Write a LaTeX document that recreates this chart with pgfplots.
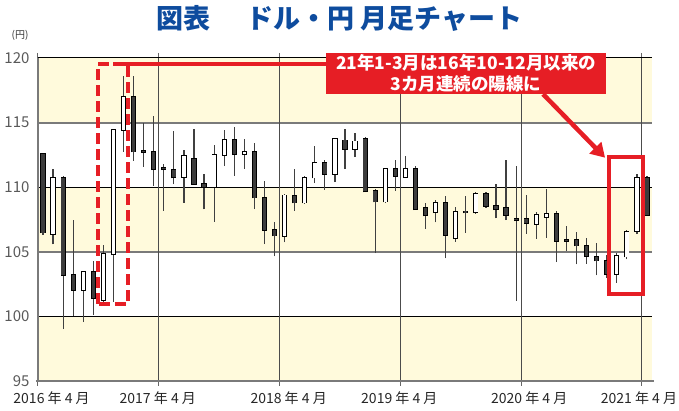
\documentclass[border=0pt]{standalone}
\usepackage{fontspec}
\setmainfont{Noto Sans CJK JP}
\usepackage{pgfplots}
\pgfplotsset{compat=1.18}
\usepackage{pgfplotstable}
\usetikzlibrary{arrows.meta}
\definecolor{band}{HTML}{FFFADC}
\definecolor{redc}{HTML}{E61E25}
\definecolor{titleblue}{HTML}{0E4C9E}
\definecolor{darkc}{HTML}{3C3C3C}
\definecolor{gridgray}{HTML}{7A7A7A}

\pgfplotstableread{
i o h l c
0 112.58 112.65 106.30 106.49
1 106.40 111.40 105.58 110.75
2 110.75 110.90 99.02 103.20
3 103.20 107.47 100.03 102.07
4 102.07 103.50 99.55 103.44
5 103.44 104.29 100.10 101.40
6 101.27 105.53 101.14 104.81
7 104.81 114.50 101.14 114.44
8 114.44 118.63 112.76 116.95
9 116.95 118.57 112.04 112.76
10 112.82 114.96 111.60 112.74
11 112.76 115.53 110.10 111.39
12 111.50 111.78 108.17 111.40
13 111.33 114.35 110.22 110.76
14 110.79 112.88 108.80 112.39
15 112.18 114.48 110.22 110.25
16 110.25 111.00 108.28 109.99
17 110.00 113.24 107.33 112.49
18 112.49 114.43 111.64 113.63
19 113.63 114.69 110.87 112.55
20 112.56 113.75 111.42 112.72
21 112.72 113.39 108.30 109.20
22 109.20 110.49 105.60 106.70
23 106.70 107.27 104.64 106.26
24 106.23 109.49 105.72 109.36
25 109.33 111.40 108.17 108.81
26 108.81 110.88 108.72 110.75
27 110.75 113.15 110.31 111.86
28 111.86 112.12 109.79 111.04
29 111.04 113.72 110.39 113.72
30 113.62 114.52 111.40 112.95
31 112.95 114.19 112.33 113.54
32 113.72 113.85 109.61 109.67
33 109.69 109.85 104.89 108.89
34 108.89 111.45 108.76 111.40
35 111.40 112.12 109.74 110.88
36 110.78 112.38 110.70 111.42
37 111.42 111.65 108.30 108.30
38 108.38 108.76 106.78 107.81
39 108.07 109.00 107.27 108.80
40 108.80 109.28 104.50 106.30
41 106.06 108.46 105.78 108.10
42 108.12 109.28 106.49 108.04
43 108.05 109.60 107.95 109.47
44 109.47 109.60 108.39 108.57
45 108.57 110.24 107.59 108.29
46 108.39 112.13 107.46 107.85
47 107.52 111.66 101.22 107.44
48 107.55 109.41 106.39 107.22
49 107.16 108.06 106.00 107.83
50 107.70 109.85 106.10 107.93
51 107.93 108.16 104.20 105.84
52 105.93 107.00 105.07 105.86
53 105.92 106.56 104.03 105.48
54 105.48 106.10 104.06 104.68
55 104.58 105.66 103.18 104.32
56 104.32 104.76 103.00 103.26
57 103.29 104.94 102.62 104.68
58 104.63 106.69 104.42 106.56
59 106.62 111.00 106.36 110.70
60 110.70 110.83 107.86 107.86
}\ohlc

\pgfplotsset{
  bars/.style={forget plot, draw=none, mark=none,
    error bars/.cd, y dir=plus, y explicit, error mark=none,
    error bar style={line cap=butt, #1}},
  hline/.style={forget plot, mark=none, #1},
}

\begin{document}
\begin{tikzpicture}[x=1pt,y=1pt]
\useasboundingbox (0,0) rectangle (679,411);
\node[font=\bfseries\fontsize{27}{31}\selectfont, text=titleblue] at (339.5,393) {図表\hspace{1.3em}ドル・円 月足チャート};
\node[font=\fontsize{10}{12}\selectfont, text=black!80] at (20,376) {(円)};
\begin{axis}[
  at={(38pt,30pt)}, anchor=south west,
  scale only axis, width=614pt, height=323pt,
  xmin=-0.5, xmax=60.5, ymin=95, ymax=120,
  clip=false,
  axis line style={draw=none},
  /pgf/number format/assume math mode=true,
  ytick={95,100,...,120},
  y tick style={draw=none},
  yticklabel style={font=\fontsize{15}{18}\selectfont, text=black!65},
  xtick={-0.5,11.5,23.5,35.5,47.5,59.5},
  xticklabels={},
  x tick style={draw=black!60, line width=1pt},
  tick align=outside,
  major tick length=5pt,
  extra x ticks={0.85,11.4,24.4,35.4,48.3,59.2},
  extra x tick labels={2016 年 4 月,2017 年 4 月,2018 年 4 月,2019 年 4 月,2020 年 4 月,2021 年 4 月},
  extra x tick style={major tick length=0pt, x tick style={draw=none}},
  xticklabel style={font=\fontsize{14}{16}\selectfont, text=black!85, yshift=-7pt},
]
% background bands
\addplot[forget plot, fill=band, draw=none] coordinates {(-0.5,95) (60.5,95) (60.5,100) (-0.5,100)} -- cycle;
\addplot[forget plot, fill=band, draw=none] coordinates {(-0.5,105) (60.5,105) (60.5,110) (-0.5,110)} -- cycle;
\addplot[forget plot, fill=band, draw=none] coordinates {(-0.5,115) (60.5,115) (60.5,120) (-0.5,120)} -- cycle;
% grid
\addplot[hline={black, line width=1pt}] coordinates {(-0.5,100) (60.5,100)};
\addplot[hline={black, line width=1pt}] coordinates {(-0.5,110) (60.5,110)};
\addplot[hline={black, line width=1pt}] coordinates {(-0.5,120) (60.5,120)};
\addplot[hline={gridgray, line width=2pt}] coordinates {(-0.5,105) (60.5,105)};
\addplot[hline={gridgray, line width=2pt}] coordinates {(-0.5,115) (60.5,115)};
\addplot[hline={black!70, line width=1pt}] coordinates {(11.5,95) (11.5,120)};
\addplot[hline={black!70, line width=1pt}] coordinates {(23.5,95) (23.5,120)};
\addplot[hline={black!70, line width=1pt}] coordinates {(35.5,95) (35.5,120)};
\addplot[hline={black!70, line width=1pt}] coordinates {(47.5,95) (47.5,120)};
\addplot[hline={black!70, line width=1pt}] coordinates {(59.5,95) (59.5,120)};
\addplot[hline={gridgray, line width=1.5pt}] coordinates {(-0.5,95) (-0.5,120)};
\addplot[hline={gridgray, line width=2pt}] coordinates {(-0.7,95) (60.7,95)};
% wicks
\addplot[bars={draw=black!75, line width=1.2pt}] table[x=i, y=l, y error expr={\thisrow{h}-\thisrow{l}}] {\ohlc};
% body outline
\addplot[bars={draw=black, line width=5.2pt}] table[x=i, y expr={min(\thisrow{o},\thisrow{c})-0.07}, y error expr={abs(\thisrow{c}-\thisrow{o})+0.14}] {\ohlc};
% bullish body fill
\addplot[bars={draw=white, line width=3.4pt}] table[x=i, y=o, y error expr={\thisrow{c}>\thisrow{o} ? \thisrow{c}-\thisrow{o} : 0}] {\ohlc};
% bearish body fill
\addplot[bars={draw=darkc, line width=3.4pt}] table[x=i, y=c, y error expr={\thisrow{c}<\thisrow{o} ? \thisrow{o}-\thisrow{c} : 0}] {\ohlc};

\draw[redc, line width=4pt, dash pattern=on 11pt off 5pt] (axis cs:5.46,100.97) rectangle (axis cs:8.44,119.54);
\draw[redc, line width=4pt] (axis cs:7.0,119.54) -- (axis cs:28.2,119.54);
\node[fill=redc, text=white, font=\bfseries\fontsize{17.5}{21}\selectfont, align=center, minimum width=280pt, minimum height=41pt, inner sep=0pt] at (axis cs:42.03,118.82) {21年1-3月は16年10-12月以来の\\3カ月連続の陽線に};
\draw[redc, line width=4pt] (axis cs:56.24,101.74) rectangle (axis cs:59.6,112.35);
\draw[redc, line width=4.5pt, -{Triangle[length=14pt,width=16pt]}] (axis cs:49.68,117.2) -- (axis cs:55.84,112.28);
\end{axis}
\end{tikzpicture}
\end{document}
